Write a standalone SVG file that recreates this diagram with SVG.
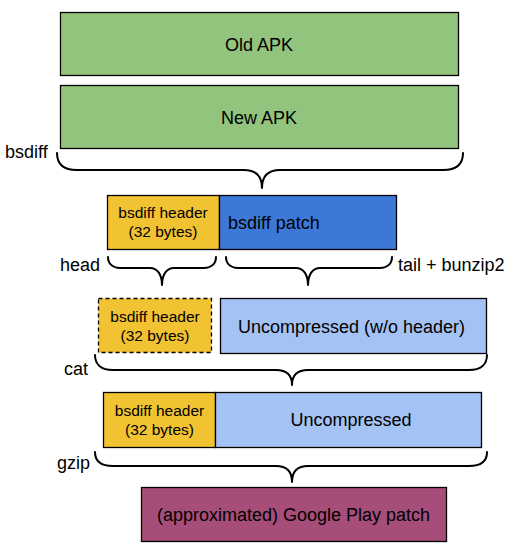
<svg xmlns="http://www.w3.org/2000/svg" width="516" height="553" viewBox="0 0 516 553">
<style>
.box{stroke:#000;stroke-width:1.3}
.green{fill:#93c47d}
.yellow{fill:#f1c232}
.blue{fill:#3c78d8}
.lblue{fill:#a4c2f4}
.purple{fill:#a64d79}
.dashed{stroke-dasharray:4 3}
text{font-family:"Liberation Sans",Arial,sans-serif;fill:#000}
.t18{font-size:18px}
.t15{font-size:15.5px}
.mid{text-anchor:middle}
.brace{fill:none;stroke:#000;stroke-width:2;stroke-linecap:round;stroke-linejoin:round}
</style>
<rect width="516" height="553" fill="#fff"/>
<g id="old-apk">
<rect class="box green" x="60.5" y="12.5" width="398" height="63"/>
<text class="t18 mid" x="259" y="51">Old APK</text>
</g>
<g id="new-apk">
<rect class="box green" x="60.5" y="85.5" width="398" height="63"/>
<text class="t18 mid" x="259" y="124">New APK</text>
</g>
<g id="bsdiff-header-1">
<rect class="box yellow" x="107.5" y="195.5" width="112" height="54"/>
<text class="t15 mid" x="163" y="218">bsdiff header</text>
<text class="t15 mid" x="163" y="237">(32 bytes)</text>
</g>
<g id="bsdiff-patch">
<rect class="box blue" x="219.5" y="195.5" width="177" height="54"/>
<text class="t18" x="228" y="229">bsdiff patch</text>
</g>
<g id="bsdiff-header-2">
<rect class="box yellow dashed" x="98.5" y="298.5" width="113" height="54"/>
<text class="t15 mid" x="155" y="322">bsdiff header</text>
<text class="t15 mid" x="155" y="341">(32 bytes)</text>
</g>
<g id="uncompressed-wo-header">
<rect class="box lblue" x="220.5" y="298.5" width="266" height="55"/>
<text class="t18" x="238" y="333">Uncompressed (w/o header)</text>
</g>
<g id="bsdiff-header-3">
<rect class="box yellow" x="103.5" y="392.5" width="112" height="55"/>
<text class="t15 mid" x="159.5" y="416">bsdiff header</text>
<text class="t15 mid" x="159.5" y="435">(32 bytes)</text>
</g>
<g id="uncompressed">
<rect class="box lblue" x="215.5" y="392.5" width="266" height="55"/>
<text class="t18 mid" x="351" y="426">Uncompressed</text>
</g>
<g id="google-play-patch">
<rect class="box purple" x="141.5" y="487.5" width="305" height="54"/>
<text class="t18 mid" x="293.5" y="521">(approximated) Google Play patch</text>
</g>
<g id="connectors">
<path class="brace" d="M57,153 C57,164 64,170 77,170 L244,170 C256,170 262,176 262,188 C262,176 268,170 280,170 L443,170 C456,170 463,164 463,153"/>
<path class="brace" d="M108,257 C108,264 113,268 120,268 L150,268 C157,268 162,274 162,285 C162,274 167,268 174,268 L204,268 C211,268 216,264 216,257"/>
<path class="brace" d="M226,257 C226,264 231,268 238,268 L296,268 C303,268 308,274 308,285 C308,274 313,268 320,268 L380,268 C387,268 392,264 392,257"/>
<path class="brace" d="M95,355 C95,364 101,370 113,370 L276,370 C286,370 292,375 292,385 C292,375 298,370 308,370 L469,370 C481,370 487,364 487,355"/>
<path class="brace" d="M95,452 C95,461 101,466 113,466 L276,466 C286,466 292,471 292,482 C292,471 298,466 308,466 L469,466 C481,466 487,461 487,452"/>
</g>
<g id="labels">
<text class="t18" x="5" y="158">bsdiff</text>
<text class="t18" x="60" y="271">head</text>
<text class="t18" x="398" y="271">tail + bunzip2</text>
<text class="t18" x="64" y="375">cat</text>
<text class="t18" x="57" y="469">gzip</text>
</g>
</svg>
